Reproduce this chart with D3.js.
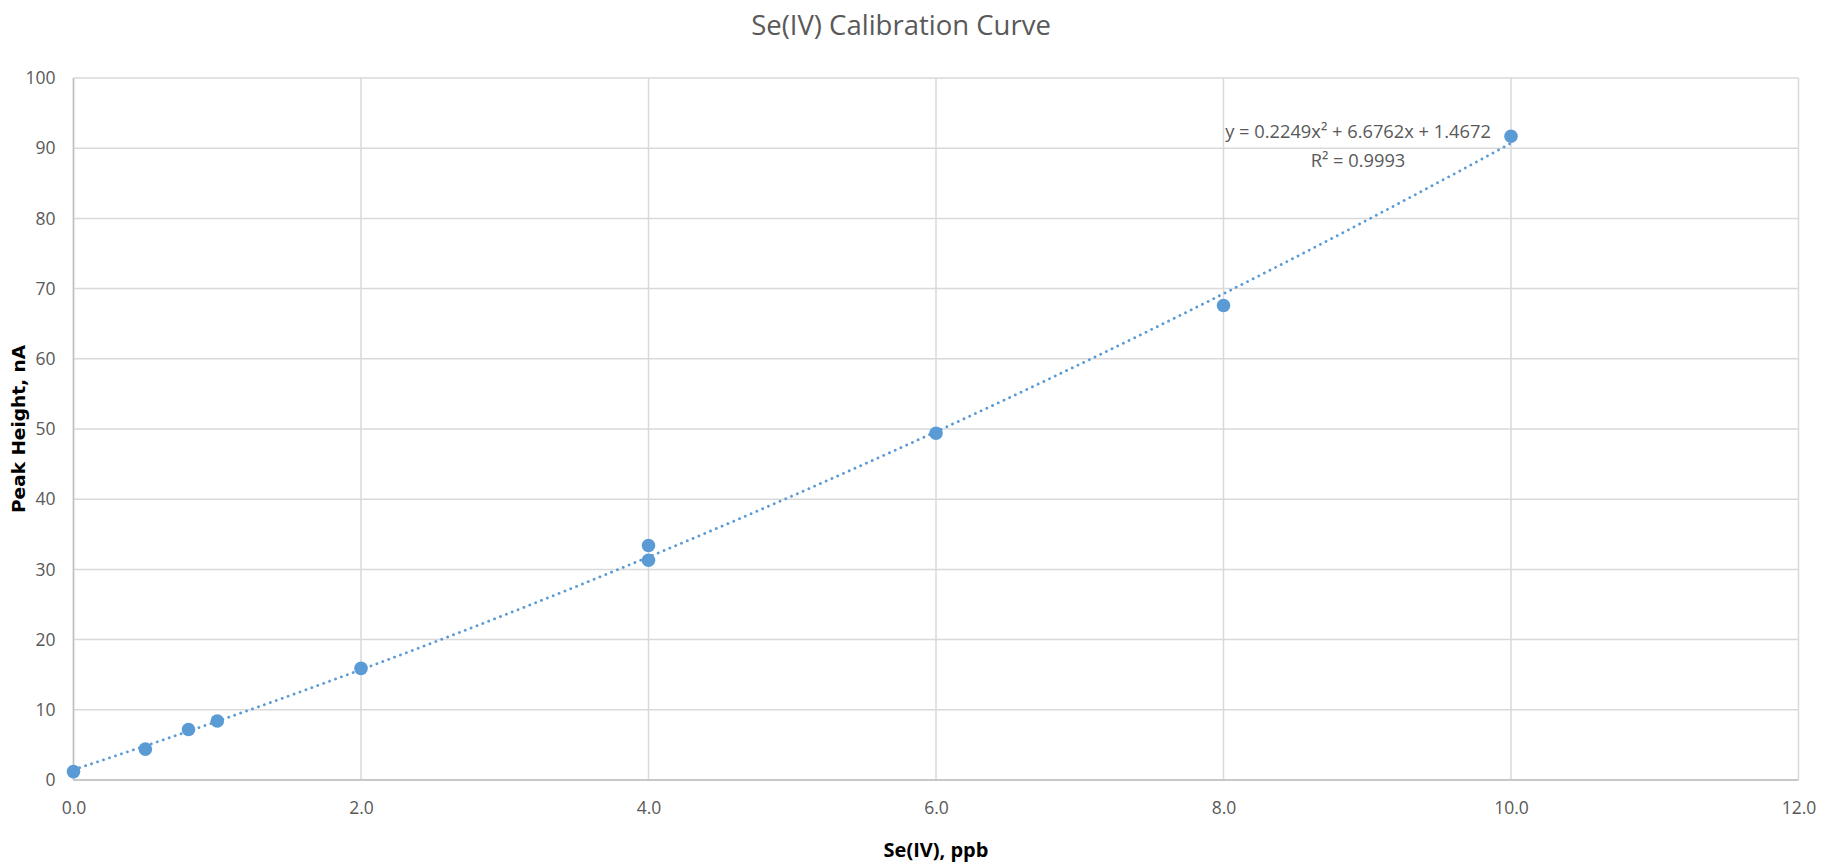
<!DOCTYPE html>
<html>
<head>
<meta charset="utf-8">
<script src="https://cdn.jsdelivr.net/npm/d3@7"></script>
<style>
  html, body { margin: 0; padding: 0; background: #fff; }
  svg text { font-family: "Open Sans", "Liberation Sans", sans-serif; }
</style>
</head>
<body>
<svg id="chart" width="1830" height="868"></svg>
<script>
// Se(IV) standards (ppb) and measured peak heights (nA)
const concentrations = [0.0, 0.5, 0.8, 1.0, 2.0, 4.0, 4.0, 6.0, 8.0, 10.0];
const peakHeights    = [1.2, 4.4, 7.2, 8.4, 15.9, 31.3, 33.4, 49.4, 67.6, 91.7];

// Polynomial (order 2) trendline coefficients
const trendCoeffs = [1.4672, 6.6762, 0.2249]; // c0 + c1·x + c2·x²
const trendLabel = ["y = 0.2249x² + 6.6762x + 1.4672", "R² = 0.9993"];

const xTicks = [0, 2, 4, 6, 8, 10, 12];
const yTicks = [0, 10, 20, 30, 40, 50, 60, 70, 80, 90, 100];

const svg = d3.select("#chart");
const margin = { left: 73.5, right: 1830 - 1798.5, top: 78, bottom: 868 - 780 };
const W = 1830, H = 868;

const x = d3.scaleLinear().domain([0, 12]).range([margin.left, W - margin.right]);
const y = d3.scaleLinear().domain([0, 100]).range([H - margin.bottom, margin.top]);

const gridColor = "#d9d9d9";
const textColor = "#595959";

// Gridlines
svg.append("g").selectAll("line.h").data(yTicks).join("line")
  .attr("x1", x(0)).attr("x2", x(12))
  .attr("y1", d => y(d)).attr("y2", d => y(d))
  .attr("stroke", gridColor).attr("stroke-width", 1.5);
svg.append("g").selectAll("line.v").data(xTicks).join("line")
  .attr("y1", y(0)).attr("y2", y(100))
  .attr("x1", d => x(d)).attr("x2", d => x(d))
  .attr("stroke", gridColor).attr("stroke-width", 1.5);

// Axis lines
svg.append("line").attr("x1", x(0)).attr("x2", x(12)).attr("y1", y(0)).attr("y2", y(0))
  .attr("stroke", "#bfbfbf").attr("stroke-width", 1.5);
svg.append("line").attr("x1", x(0)).attr("x2", x(0)).attr("y1", y(0)).attr("y2", y(100))
  .attr("stroke", "#bfbfbf").attr("stroke-width", 1.5);

// Tick labels via d3 axes (domain and tick lines hidden)
const xAxis = svg.append("g").attr("transform", `translate(0,${y(0)})`)
  .call(d3.axisBottom(x).tickValues(xTicks).tickFormat(d3.format(".1f")).tickSize(0).tickPadding(22));
const yAxis = svg.append("g").attr("transform", `translate(${x(0)},0)`)
  .call(d3.axisLeft(y).tickValues(yTicks).tickSize(0).tickPadding(18));
[xAxis, yAxis].forEach(g => {
  g.select(".domain").remove();
  g.selectAll("text").attr("fill", textColor).style("font-size", "17.5px")
    .style("font-family", "'Open Sans', sans-serif");
});

// Trendline (dotted)
const trendX = d3.range(0, 10.0001, 0.05);
const poly = v => trendCoeffs[0] + trendCoeffs[1] * v + trendCoeffs[2] * v * v;
svg.append("path")
  .datum(trendX)
  .attr("fill", "none")
  .attr("stroke", "#5b9bd5")
  .attr("stroke-width", 2.8)
  .attr("stroke-linecap", "round")
  .attr("stroke-dasharray", "0.1 6.2")
  .attr("d", d3.line().x(d => x(d)).y(d => y(poly(d))));

// Data points
svg.append("g").selectAll("circle").data(concentrations).join("circle")
  .attr("cx", d => x(d))
  .attr("cy", (d, i) => y(peakHeights[i]))
  .attr("r", 6.8)
  .attr("fill", "#5b9bd5");

// Trendline equation
svg.append("g").selectAll("text").data(trendLabel).join("text")
  .attr("x", 1358).attr("y", (d, i) => 138 + i * 29)
  .attr("text-anchor", "middle")
  .attr("fill", textColor)
  .style("font-size", "18.3px")
  .text(d => d);

// Title
svg.append("text")
  .attr("x", 901).attr("y", 35)
  .attr("text-anchor", "middle")
  .attr("fill", textColor)
  .style("font-size", "27.5px")
  .text("Se(IV) Calibration Curve");

// Axis titles
svg.append("text")
  .attr("x", 936).attr("y", 857)
  .attr("text-anchor", "middle")
  .attr("fill", "#000")
  .style("font-size", "20px").style("font-weight", "bold")
  .text("Se(IV), ppb");

svg.append("text")
  .attr("transform", `translate(25,${(y(0) + y(100)) / 2}) rotate(-90)`)
  .attr("text-anchor", "middle")
  .attr("fill", "#000")
  .style("font-family", "'DejaVu Sans', sans-serif")
  .style("font-size", "18.5px").style("font-weight", "bold")
  .text("Peak Height, nA");
</script>
</body>
</html>
